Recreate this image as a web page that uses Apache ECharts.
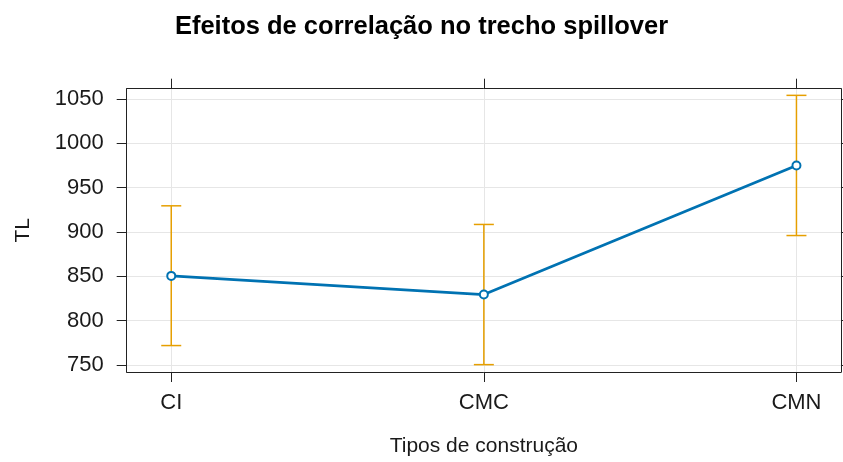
<!DOCTYPE html>
<html lang="pt">
<head>
  <meta charset="utf-8">
  <title>Efeitos de correlação no trecho spillover</title>
  <script src="https://cdn.jsdelivr.net/npm/echarts@6/dist/echarts.min.js"></script>
  <style>
    html, body { margin: 0; padding: 0; background: #fff; }
    #chart { width: 843px; height: 462px; }
  </style>
</head>
<body>
  <div id="chart"></div>
  <script>
    // dados
    var categorias = ['CI', 'CMC', 'CMN'];
    var tl = [850.5, 829.5, 975];
    var inferior = [772, 750.5, 896];
    var superior = [929.5, 908.5, 1054];
    var yTicks = [750, 800, 850, 900, 950, 1000, 1050];

    var fonte = "'Liberation Sans', Arial, sans-serif";
    var xIdx = categorias.map(function (c, i) { return i; });

    var chart = echarts.init(document.getElementById('chart'));

    var linha = tl.map(function (v, i) { return [i, v]; });
    var barras = tl.map(function (v, i) { return [i, inferior[i], superior[i]]; });

    function eixoX(pos, comLabel) {
      return {
        type: 'value',
        position: pos,
        min: -0.1425,
        max: 2.1425,
        axisLine: { show: true, onZero: false, lineStyle: { color: '#222', width: 1 } },
        axisTick: { show: true, inside: false, length: 10, customValues: xIdx, lineStyle: { color: '#222' } },
        axisLabel: {
          show: comLabel,
          customValues: xIdx,
          margin: 20,
          fontSize: 22,
          fontFamily: fonte,
          color: '#1a1a1a',
          formatter: function (v) { return categorias[Math.round(v)]; }
        },
        splitLine: { show: comLabel, lineStyle: { color: '#e6e6e6', width: 1 } }
      };
    }

    function eixoY(pos, comLabel) {
      return {
        type: 'value',
        position: pos,
        min: 742.2,
        max: 1061.5,
        axisLine: { show: true, onZero: false, lineStyle: { color: '#222', width: 1 } },
        axisTick: { show: true, inside: false, length: 10, customValues: yTicks, lineStyle: { color: '#222' } },
        axisLabel: {
          show: comLabel,
          customValues: yTicks,
          margin: 23,
          fontSize: 22,
          fontFamily: fonte,
          color: '#1a1a1a',
          formatter: function (v) { return String(v); }
        },
        splitLine: { show: comLabel, lineStyle: { color: '#e6e6e6', width: 1 } }
      };
    }

    var xBase = eixoX('bottom', true);
    xBase.name = 'Tipos de construção';
    xBase.nameLocation = 'middle';
    xBase.nameGap = 64;
    xBase.nameTextStyle = { fontSize: 21, fontFamily: fonte, color: '#1a1a1a' };

    var yBase = eixoY('left', true);
    yBase.name = 'TL';
    yBase.nameLocation = 'middle';
    yBase.nameGap = 93;
    yBase.nameTextStyle = { fontSize: 21, fontFamily: fonte, color: '#1a1a1a' };

    var options = {
      backgroundColor: '#fff',
      animation: false,
      title: {
        text: 'Efeitos de correlação no trecho spillover',
        left: 'center',
        top: 9,
        textStyle: { fontSize: 25.5, fontWeight: 'bold', fontFamily: fonte, color: '#000' }
      },
      grid: { left: 126.7, right: 2, top: 88.7, bottom: 87.7, containLabel: false },
      xAxis: [xBase, eixoX('top', false)],
      yAxis: [yBase, eixoY('right', false)],
      series: [
        {
          // barras de erro (intervalo de confiança)
          type: 'custom',
          xAxisIndex: 0,
          yAxisIndex: 0,
          data: barras,
          z: 2,
          renderItem: function (params, api) {
            var x = api.value(0);
            var lo = api.coord([x, api.value(1)]);
            var hi = api.coord([x, api.value(2)]);
            var w = 10;
            var st = { stroke: '#E69F00', lineWidth: 1.5 };
            return {
              type: 'group',
              children: [
                { type: 'line', shape: { x1: hi[0], y1: hi[1], x2: lo[0], y2: lo[1] }, style: st },
                { type: 'line', shape: { x1: hi[0] - w, y1: hi[1], x2: hi[0] + w, y2: hi[1] }, style: st },
                { type: 'line', shape: { x1: lo[0] - w, y1: lo[1], x2: lo[0] + w, y2: lo[1] }, style: st }
              ]
            };
          }
        },
        {
          type: 'line',
          xAxisIndex: 0,
          yAxisIndex: 0,
          data: linha,
          z: 3,
          symbol: 'emptyCircle',
          symbolSize: 8,
          lineStyle: { color: '#0072B2', width: 2.8 },
          itemStyle: { color: '#0072B2', borderColor: '#0072B2', borderWidth: 2.5 }
        }
      ]
    };

    chart.setOption(options);
  </script>
</body>
</html>
